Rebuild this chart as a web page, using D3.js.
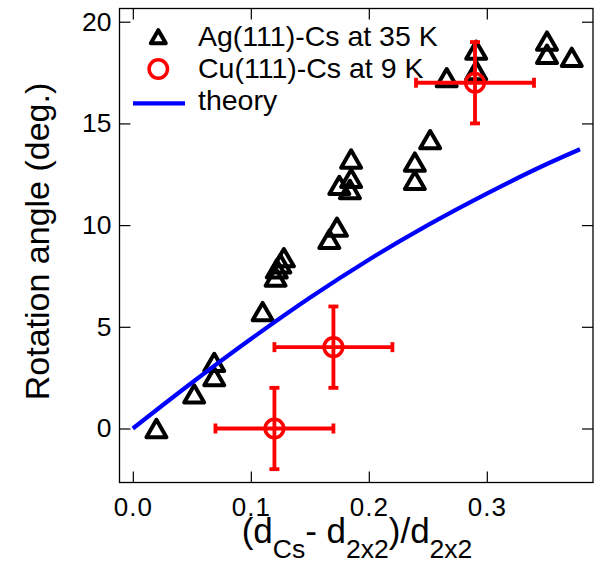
<!DOCTYPE html>
<html>
<head>
<meta charset="utf-8">
<script src="https://cdn.jsdelivr.net/npm/d3@7"></script>
<style>
  html, body { margin: 0; padding: 0; background: #fff; }
  svg { display: block; font-family: "Liberation Sans", Arial, sans-serif; }
</style>
</head>
<body>
<svg id="chart" width="595" height="563"></svg>
<script>
// ---- data ----
const agX = [0.020, 0.052, 0.069, 0.069, 0.110, 0.121, 0.122, 0.125, 0.128, 0.1665, 0.173,
             0.175, 0.184, 0.185, 0.185, 0.239, 0.239, 0.252, 0.266, 0.291, 0.291, 0.351, 0.351, 0.372];
const agY = [0.0, 1.7, 2.55, 3.25, 5.75, 7.45, 7.85, 8.1, 8.4, 9.3, 9.9,
             11.95, 11.75, 12.3, 13.25, 12.2, 13.1, 14.2, 17.25, 17.6, 18.6, 19.05, 18.4, 18.25];
const cuX = [0.12, 0.17, 0.29];
const cuY = [0, 4, 17];
const cuXErr = [0.05, 0.05, 0.05];
const cuYErr = [2, 2, 2];
const theoryX = [0, 0.05, 0.1, 0.15, 0.2, 0.25, 0.3, 0.35, 0.379];
const theoryY = [0, 2.25, 4.4, 6.43, 8.3, 10.0, 11.55, 12.98, 13.73];
const xTicks = [0, 0.1, 0.2, 0.3];
const yTicks = [0, 5, 10, 15, 20];
const legendLabels = ["Ag(111)-Cs at 35 K", "Cu(111)-Cs at 9 K", "theory"];

// ---- layout ----
const svg = d3.select("#chart");
const L = 119.5, R = 593, T = 8.5, B = 482.5;
const x = d3.scaleLinear().domain([-0.0113, 0.39]).range([L, R]);
const y = d3.scaleLinear().domain([-2.655, 20.65]).range([B, T]);

// axes (inward ticks on all four sides)
const tickLen = 11;
const gx = svg.append("g").attr("transform", `translate(0,${B})`)
  .call(d3.axisBottom(x).tickValues(xTicks).tickFormat(d3.format(".1f"))
        .tickSizeInner(-tickLen).tickSizeOuter(0).tickPadding(15));
const gy = svg.append("g").attr("transform", `translate(${L},0)`)
  .call(d3.axisLeft(y).tickValues(yTicks).tickFormat(d3.format("d"))
        .tickSizeInner(-tickLen).tickSizeOuter(0).tickPadding(8));
const gxt = svg.append("g").attr("transform", `translate(0,${T})`)
  .call(d3.axisTop(x).tickValues(xTicks).tickFormat("").tickSizeInner(-tickLen).tickSizeOuter(0));
const gyr = svg.append("g").attr("transform", `translate(${R},0)`)
  .call(d3.axisRight(y).tickValues(yTicks).tickFormat("").tickSizeInner(-tickLen).tickSizeOuter(0));
[gx, gy, gxt, gyr].forEach(g => {
  g.select(".domain").remove();
  g.selectAll(".tick line").attr("stroke", "#000").attr("stroke-width", 1.2);
  g.selectAll(".tick text").attr("fill", "#000")
    .style("font-family", "'Liberation Sans', Arial, sans-serif");
});
gx.selectAll(".tick text").style("font-size", "26px").style("letter-spacing", "1px");
gy.selectAll(".tick text").style("font-size", "26.5px");

// frame
svg.append("rect").attr("x", L).attr("y", T).attr("width", R - L).attr("height", B - T)
  .attr("fill", "none").attr("stroke", "#000").attr("stroke-width", 1.3);

// triangle path
function triPath(s) {
  const h = s * Math.sqrt(3) / 2;
  return `M0,${-h / 2}L${s / 2},${h / 2}L${-s / 2},${h / 2}Z`;
}

// Ag triangles
const agData = agX.map((v, i) => ({ x: v, y: agY[i] }));
svg.append("g").selectAll("path").data(agData).join("path")
  .attr("d", triPath(20))
  .attr("transform", d => `translate(${x(d.x)},${y(d.y)})`)
  .attr("fill", "none").attr("stroke", "#000").attr("stroke-width", 4)
  .attr("stroke-linejoin", "round");

// theory line
const thData = theoryX.map((v, i) => ({ x: v, y: theoryY[i] }));
svg.append("path").datum(thData)
  .attr("d", d3.line().x(d => x(d.x)).y(d => y(d.y)).curve(d3.curveMonotoneX))
  .attr("fill", "none").attr("stroke", "#0000ff").attr("stroke-width", 4.2);

// Cu points with error bars
const cuData = cuX.map((v, i) => ({ x: v, y: cuY[i], ex: cuXErr[i], ey: cuYErr[i] }));
const red = "#ff0000";
const cap = 5;
const cg = svg.append("g").attr("stroke", red).attr("stroke-width", 3.8).attr("fill", "none");
cuData.forEach(d => {
  const g = cg.append("g");
  g.append("line").attr("x1", x(d.x - d.ex)).attr("x2", x(d.x + d.ex)).attr("y1", y(d.y)).attr("y2", y(d.y));
  g.append("line").attr("x1", x(d.x)).attr("x2", x(d.x)).attr("y1", y(d.y - d.ey)).attr("y2", y(d.y + d.ey));
  [d.x - d.ex, d.x + d.ex].forEach(xv =>
    g.append("line").attr("x1", x(xv)).attr("x2", x(xv)).attr("y1", y(d.y) - cap).attr("y2", y(d.y) + cap));
  [d.y - d.ey, d.y + d.ey].forEach(yv =>
    g.append("line").attr("x1", x(d.x) - cap).attr("x2", x(d.x) + cap).attr("y1", y(yv)).attr("y2", y(yv)));
  g.append("circle").attr("cx", x(d.x)).attr("cy", y(d.y)).attr("r", 9.3).attr("stroke-width", 3.5);
});

// legend
const lg = svg.append("g");
const lgX = 158.3, lgTextX = 198, lgY0 = 45.7, lgDY = 32.3;
lg.append("path").attr("d", triPath(15)).attr("transform", `translate(${lgX},${lgY0 - 9})`)
  .attr("fill", "none").attr("stroke", "#000").attr("stroke-width", 4).attr("stroke-linejoin", "round");
lg.append("circle").attr("cx", lgX).attr("cy", lgY0 + lgDY - 9).attr("r", 9.2)
  .attr("fill", "none").attr("stroke", red).attr("stroke-width", 3.5);
lg.append("line").attr("x1", 133).attr("x2", 185).attr("y1", lgY0 + 2 * lgDY - 7).attr("y2", lgY0 + 2 * lgDY - 7)
  .attr("stroke", "#0000ff").attr("stroke-width", 4.2);
legendLabels.forEach((t, i) => {
  lg.append("text").attr("x", lgTextX).attr("y", lgY0 + i * lgDY)
    .style("font-size", "28.5px").attr("fill", "#000").text(t);
});

// axis titles
svg.append("text")
  .attr("transform", `translate(49,241.5) rotate(-90)`)
  .attr("text-anchor", "middle").style("font-size", "34px").attr("fill", "#000")
  .text("Rotation angle (deg.)");

const xt = svg.append("text").attr("x", 357).attr("y", 543)
  .attr("text-anchor", "middle").style("font-size", "35px").attr("fill", "#000");
const parts = [["(d", 0], ["Cs", 1], ["- d", 0], ["2x2", 1], [")/d", 0], ["2x2", 1]];
const subShift = 15;
let cur = 0;
parts.forEach(([s, sub]) => {
  const target = sub ? subShift : 0;
  xt.append("tspan").attr("dy", target - cur).style("font-size", sub ? "26.5px" : "35px").text(s);
  cur = target;
});
</script>
</body>
</html>
